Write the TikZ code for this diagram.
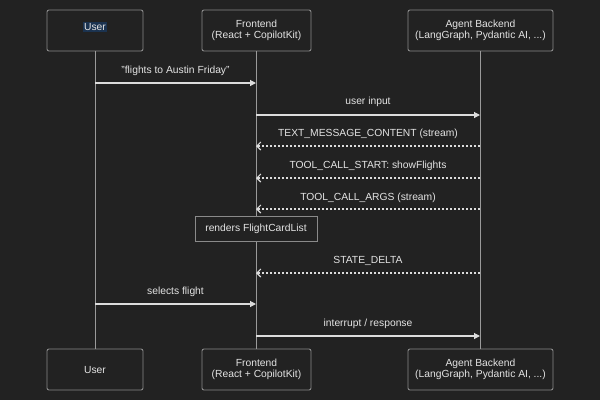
\documentclass[tikz,border=0pt]{standalone}
\usepackage{fontspec}
\setmainfont{Liberation Sans}
\usetikzlibrary{arrows.meta}
\definecolor{bg}{HTML}{222222}
\definecolor{bordc}{HTML}{8A8A8A}
\definecolor{txt}{HTML}{E4E4E4}
\definecolor{lifec}{HTML}{9A9A9A}
\definecolor{msgc}{HTML}{DCDCDC}
\definecolor{selc}{HTML}{1B3350}
\begin{document}
\begin{tikzpicture}[x=1pt,y=-1pt,
  font=\fontsize{10.3}{11.5}\selectfont,
  actor/.style={draw=bordc,line width=0.9pt,rounded corners=2pt,fill=bg,text=txt,align=center,inner sep=0pt},
  life/.style={draw=lifec,line width=0.9pt},
  msg/.style={draw=msgc,line width=1.1pt,-{Triangle[length=6pt,width=6pt]}},
  ret/.style={draw=msgc,line width=1.1pt,dash pattern=on 2pt off 2pt,-{Straight Barb[length=4pt,width=8pt,line width=1.1pt]}},
  lbl/.style={text=txt,inner sep=0pt},
  notebox/.style={draw=bordc,line width=0.9pt,fill=bg,text=txt,inner sep=0pt}]
\fill[bg] (0,0) rectangle (600,400);
\useasboundingbox (0,0) rectangle (600,400);
% top actors
\node[actor,minimum width=96pt,minimum height=41pt] (u1) at (95,30.5) {};
\node[lbl,fill=selc,inner sep=1pt] (u1t) at (95,27) {User};
\node[actor,minimum width=109pt,minimum height=41pt] (f1) at (256.5,30.5) {Frontend\\(React + CopilotKit)};
\node[actor,minimum width=145pt,minimum height=41pt] (a1) at (480.5,30.5) {Agent Backend\\(LangGraph, Pydantic AI, ...)};
% bottom actors
\node[actor,minimum width=96pt,minimum height=41pt] (u2) at (95,369.5) {User};
\node[actor,minimum width=109pt,minimum height=41pt] (f2) at (256.5,369.5) {Frontend\\(React + CopilotKit)};
\node[actor,minimum width=145pt,minimum height=41pt] (a2) at (480.5,369.5) {Agent Backend\\(LangGraph, Pydantic AI, ...)};
% lifelines
\draw[life] (u1.south) -- (u2.north);
\draw[life] (f1.south) -- (f2.north);
\draw[life] (a1.south) -- (a2.north);
% message coordinates
\coordinate (m1s) at (95,83);  \coordinate (m1e) at (256,83);
\coordinate (m2s) at (256,115); \coordinate (m2e) at (480,115);
\coordinate (m3s) at (480,146); \coordinate (m3e) at (256,146);
\coordinate (m4s) at (480,178); \coordinate (m4e) at (256,178);
\coordinate (m5s) at (480,209); \coordinate (m5e) at (256,209);
\coordinate (m6s) at (480,273); \coordinate (m6e) at (256,273);
\coordinate (m7s) at (95,304); \coordinate (m7e) at (256,304);
\coordinate (m8s) at (256,336); \coordinate (m8e) at (480,336);
\draw[msg] (m1s) -- (m1e);
\node[lbl] (l1) at (175.5,70.5) {"flights to Austin Friday"};
\draw[msg] (m2s) -- (m2e);
\node[lbl] (l2) at (368,102) {user input};
\draw[ret] (m3s) -- (m3e);
\node[lbl] (l3) at (368,133.5) {TEXT\_MESSAGE\_CONTENT (stream)};
\draw[ret] (m4s) -- (m4e);
\node[lbl] (l4) at (368,165.5) {TOOL\_CALL\_START: showFlights};
\draw[ret] (m5s) -- (m5e);
\node[lbl] (l5) at (368,197.5) {TOOL\_CALL\_ARGS (stream)};
\node[notebox,minimum width=122pt,minimum height=25pt] (n1) at (256,228.5) {renders FlightCardList};
\draw[ret] (m6s) -- (m6e);
\node[lbl] (l6) at (368,260.5) {STATE\_DELTA};
\draw[msg] (m7s) -- (m7e);
\node[lbl] (l7) at (175.5,292) {selects flight};
\draw[msg] (m8s) -- (m8e);
\node[lbl] (l8) at (368,323.5) {interrupt / response};
\end{tikzpicture}
\end{document}
